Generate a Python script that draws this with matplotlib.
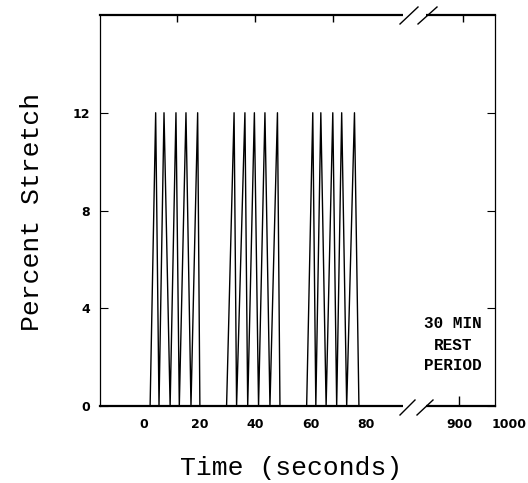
import numpy as np
import matplotlib
matplotlib.use("Agg")
import matplotlib.pyplot as plt
import matplotlib.transforms as mtrans

# ---- data (seconds, percent stretch) ----
time_s = [-16,
          2.2, 4.2, 5.4, 7.2, 9.4, 11.5, 12.7, 15.1, 16.9, 19.3, 20.1,
          29.7, 32.4, 33.3, 36.3, 37.3, 39.7, 41.2, 43.5, 45.3, 48.0, 48.9,
          58.5, 60.7, 61.8, 63.6, 65.5, 67.9, 69.3, 71.1, 72.9, 75.7, 77.3,
          97]
stretch_pct = [0,
               0, 12, 0, 12, 0, 12, 0, 12, 0, 12, 0,
               0, 12, 0, 12, 0, 12, 0, 12, 0, 12, 0,
               0, 12, 0, 12, 0, 12, 0, 12, 0, 12, 0,
               0]

x_ticks = [0, 20, 40, 60, 80, 900, 1000]
x_ticklabels = ["0", "20", "40", "60", "80", "900", "1000"]
y_ticks = [0, 4, 8, 12]
top_ticks = [12, 40, 68, 910]
bottom_extra_ticks = [900]

# ---- broken time axis: piecewise linear scale ----
seg_t = [-16, 97, 778, 1000]
seg_u = [0.0, 314.2, 315.5, 395.5]
s_left = (seg_u[1] - seg_u[0]) / (seg_t[1] - seg_t[0])
s_right = (seg_u[3] - seg_u[2]) / (seg_t[3] - seg_t[2])
kt = [-1e5] + seg_t + [1e5]
ku = [seg_u[0] - s_left * (seg_t[0] + 1e5)] + seg_u + [seg_u[3] + s_right * (1e5 - seg_t[3])]


def fwd(t):
    return np.interp(t, kt, ku)


def inv(u):
    return np.interp(u, ku, kt)


# layout helpers (pixel -> axes fraction)
AX_L, AX_R, AX_T, AX_B = 99.5, 495.0, 15.0, 406.0
W, H = 528, 483


def fx(px):
    return (px - AX_L) / (AX_R - AX_L)


def fy(py):
    return (AX_B - py) / (AX_B - AX_T)


fig = plt.figure(figsize=(W / 100, H / 100), dpi=100)
ax = fig.add_axes([AX_L / W, (H - AX_B) / H, (AX_R - AX_L) / W, (AX_B - AX_T) / H])
ax.set_xscale("function", functions=(fwd, inv))

ax.plot(time_s, stretch_pct, color="black", lw=1.0, zorder=3)

ax.set_xlim(-16, 1000)
ax.set_ylim(0, 16)

ax.set_xticks(x_ticks)
ax.set_xticklabels(x_ticklabels)
ax.set_yticks(y_ticks)
ax.tick_params(axis="x", length=0, pad=9, labelsize=9)
ax.tick_params(axis="y", direction="in", left=True, right=True, length=6, pad=7, labelsize=9)
for lab in ax.get_xticklabels() + ax.get_yticklabels():
    lab.set_fontweight("bold")
    lab.set_family("DejaVu Sans")
# the 1000 label sits right of its tick in the original
lab1000 = ax.get_xticklabels()[-1]
lab1000.set_transform(lab1000.get_transform() + mtrans.ScaledTranslation(14 / 100, 0, fig.dpi_scale_trans))

for side in ["top", "bottom"]:
    ax.spines[side].set_linewidth(1.6)
for side in ["left", "right"]:
    ax.spines[side].set_linewidth(0.9)

# manual ticks on top and the 900 tick at bottom
blend = mtrans.blended_transform_factory(ax.transData, ax.transAxes)
ax.plot(top_ticks, [1] * len(top_ticks), transform=blend, ls="none", marker=3,
        ms=5, mew=1, color="black", clip_on=False)
ax.plot(bottom_extra_ticks, [0] * len(bottom_extra_ticks), transform=blend, ls="none",
        marker=2, ms=7, mew=1, color="black", clip_on=False)

# axis break: gap in top/bottom lines and the // marks
for yb in [0, 1]:
    ax.plot([fx(403), fx(426)], [yb, yb], transform=ax.transAxes, color="white",
            lw=3, clip_on=False, zorder=5, solid_capstyle="butt")
for x0, x1 in [(400, 415), (417, 433)]:
    ax.plot([fx(x0), fx(x1)], [fy(415), fy(400)], transform=ax.transAxes,
            color="black", lw=1, clip_on=False, zorder=6)
for x0, x1 in [(400, 418), (418, 437)]:
    ax.plot([fx(x0), fx(x1)], [fy(24), fy(7)], transform=ax.transAxes,
            color="black", lw=1, clip_on=False, zorder=6)

ax.text(fx(453), fy(345), "30 MIN\nREST\nPERIOD", transform=ax.transAxes,
        ha="center", va="center", family="Liberation Mono", fontsize=11.5,
        fontweight="bold", linespacing=1.5)

fig.text(291 / W, 1 - 475 / H, "Time (seconds)", ha="center", va="baseline",
         family="Liberation Mono", fontsize=19)
fig.text(32 / W, 1 - 212 / H, "Percent Stretch", ha="center", va="center",
         rotation=90, family="Liberation Mono", fontsize=19)

fig.savefig("out.png", dpi=100)
